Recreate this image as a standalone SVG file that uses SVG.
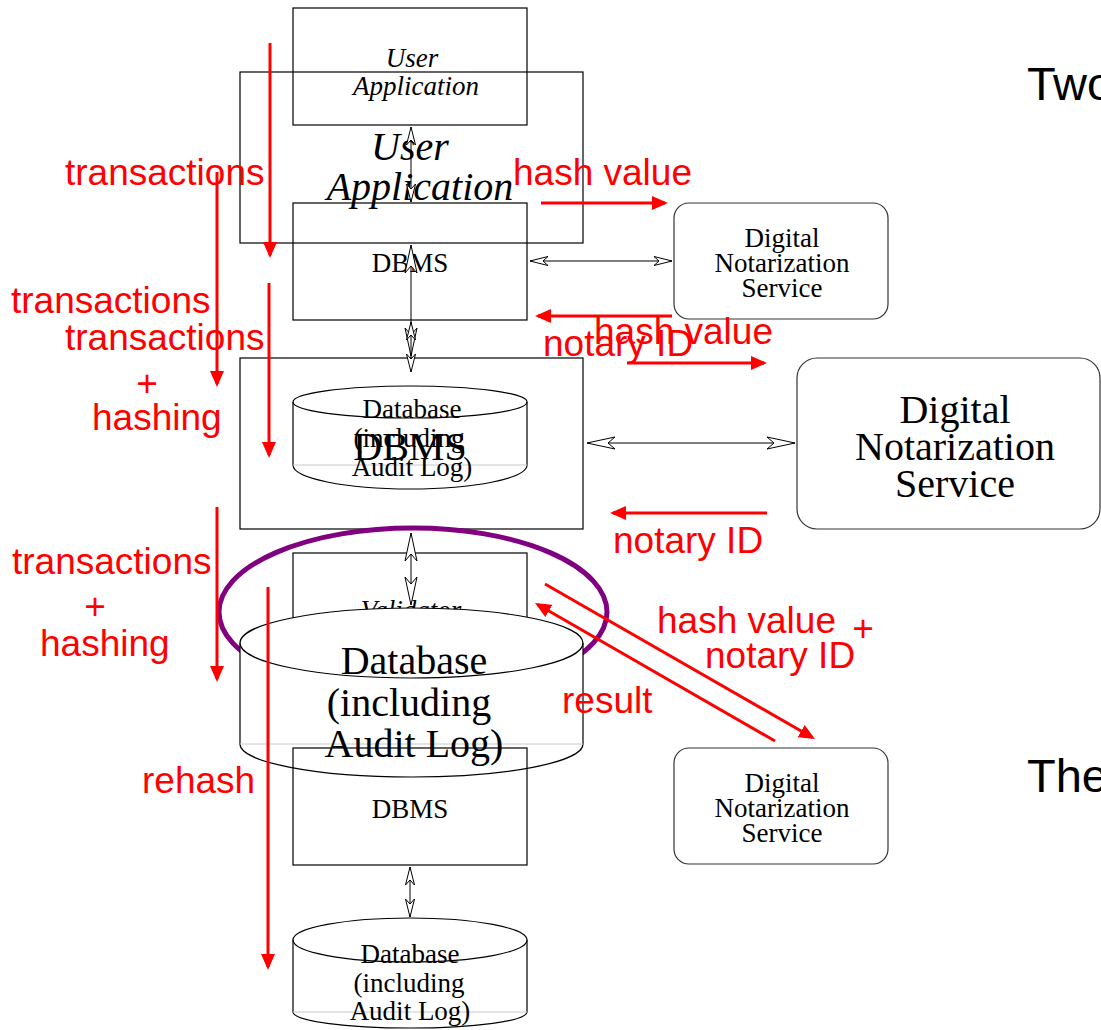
<svg xmlns="http://www.w3.org/2000/svg" width="1101" height="1030" viewBox="0 0 1101 1030">
  <defs>
    <style>
      .box { fill: none; stroke: #000; stroke-width: 1.2; }
      .rbox { fill: none; stroke: #333; stroke-width: 1.2; }
      .cyl { fill: #fff; stroke: #000; stroke-width: 1.2; }
      .cyl-rim { fill: none; stroke: #000; stroke-width: 1.2; }
      .cyl-seam { stroke: #c8c8c8; stroke-width: 1; }
      .serif { font-family: "Liberation Serif", "Times New Roman", serif; fill: #000; text-anchor: middle; }
      .s { font-size: 27px; }
      .l { font-size: 40px; }
      .it { font-style: italic; }
      .link { fill: none; stroke: #000; stroke-width: 1; }
      .flow { fill: none; stroke: #f00; stroke-width: 3; }
      .flabel { font-family: "Liberation Sans", Arial, sans-serif; font-size: 37px; fill: #f00; }
      .side { font-family: "Liberation Sans", Arial, sans-serif; font-size: 47px; fill: #000; }
    </style>
    <marker id="open-s" viewBox="0 0 18 9" refX="18" refY="4.5" markerWidth="18" markerHeight="9" markerUnits="userSpaceOnUse" orient="auto-start-reverse" overflow="visible">
      <path d="M18,4.5 L0,0 L5,4.5 L0,9 Z" fill="#fff" stroke="#000" stroke-width="1"/>
    </marker>
    <marker id="open-l" viewBox="0 0 28 12" refX="28" refY="6" markerWidth="28" markerHeight="12" markerUnits="userSpaceOnUse" orient="auto-start-reverse" overflow="visible">
      <path d="M28,6 L0,0 L7,6 L0,12 Z" fill="#fff" stroke="#000" stroke-width="1"/>
    </marker>
    <marker id="red-head" viewBox="0 0 16 14" refX="13" refY="7" markerWidth="16" markerHeight="14" markerUnits="userSpaceOnUse" orient="auto">
      <path d="M0,0 L16,7 L0,14 Z" fill="#f00"/>
    </marker>
  </defs>

  <rect width="1101" height="1030" fill="#fff"/>

  <!-- small stack: application / DBMS / database -->
  <g id="user-app-small">
    <rect class="box" x="293" y="8" width="234" height="117"/>
    <text class="serif s it" x="412" y="67">User</text>
    <text class="serif s it" x="416" y="95">Application</text>
  </g>

  <g id="user-app-large">
    <rect class="box" x="240" y="72" width="343" height="171"/>
    <text class="serif l it" x="410" y="160">User</text>
    <text class="serif l it" x="420" y="200">Application</text>
  </g>

  <g id="dbms-small">
    <rect class="box" x="293" y="203" width="234" height="117"/>
    <text class="serif s" x="410" y="272">DBMS</text>
  </g>

  <g id="notary-small">
    <rect class="rbox" x="674" y="203" width="214" height="116" rx="15"/>
    <text class="serif s" x="782" y="247">Digital</text>
    <text class="serif s" x="782" y="272">Notarization</text>
    <text class="serif s" x="782" y="297">Service</text>
  </g>

  <g id="dbms-large">
    <rect class="box" x="240" y="358" width="343" height="171"/>
  </g>

  <g id="database-small">
    <path class="cyl" d="M293,402 L293,465 A117,24 0 0 0 527,465 L527,402 A117,16 0 0 0 293,402 Z"/>
    <path class="cyl-rim" d="M293,402 A117,16 0 0 0 527,402"/>
    <line class="cyl-seam" x1="293" y1="465" x2="527" y2="465"/>
    <text class="serif s" x="412" y="418">Database</text>
    <text class="serif s" x="409" y="447">(including</text>
    <text class="serif s" x="412" y="476">Audit Log)</text>
  </g>

  <g id="dbms-large-label">
    <text class="serif l" x="410" y="460">DBMS</text>
  </g>

  <g id="notary-large">
    <rect class="rbox" x="797" y="358" width="303" height="171" rx="20"/>
    <text class="serif l" x="955" y="423">Digital</text>
    <text class="serif l" x="955" y="460">Notarization</text>
    <text class="serif l" x="955" y="497">Service</text>
  </g>

  <g id="validator">
    <rect class="box" x="293" y="553" width="234" height="117"/>
    <text class="serif s it" x="411" y="619">Validator</text>
  </g>

  <!-- highlight around the validator -->
  <g id="highlight">
    <ellipse cx="413" cy="612" rx="194" ry="84" fill="none" stroke="#800080" stroke-width="5"/>
  </g>

  <g id="database-large">
    <path class="cyl" d="M240,643 L240,744 A171.5,33 0 0 0 583,744 L583,643 A171.5,35 0 0 0 240,643 Z"/>
    <path class="cyl-rim" d="M240,643 A171.5,35 0 0 0 583,643"/>
    <line class="cyl-seam" x1="240" y1="744" x2="583" y2="744"/>
    <text class="serif l" x="414" y="674">Database</text>
    <text class="serif l" x="409" y="716">(including</text>
    <text class="serif l" x="414" y="757">Audit Log)</text>
  </g>

  <g id="dbms-lower">
    <rect class="box" x="293" y="748" width="234" height="117"/>
    <text class="serif s" x="410" y="818">DBMS</text>
  </g>

  <g id="notary-lower">
    <rect class="rbox" x="674" y="748" width="214" height="116" rx="15"/>
    <text class="serif s" x="782" y="792">Digital</text>
    <text class="serif s" x="782" y="817">Notarization</text>
    <text class="serif s" x="782" y="842">Service</text>
  </g>

  <g id="database-lower">
    <path class="cyl" d="M293,940 L293,1012 A117,16 0 0 0 527,1012 L527,940 A117,22 0 0 0 293,940 Z"/>
    <path class="cyl-rim" d="M293,940 A117,22 0 0 0 527,940"/>
    <line class="cyl-seam" x1="293" y1="1012" x2="527" y2="1012"/>
    <text class="serif s" x="410" y="963">Database</text>
    <text class="serif s" x="409" y="992">(including</text>
    <text class="serif s" x="410" y="1020">Audit Log)</text>
  </g>

  <!-- two-way links between components -->
  <g id="connectors">
    <line class="link" x1="411" y1="127" x2="411" y2="202" marker-start="url(#open-s)" marker-end="url(#open-s)"/>
    <line class="link" x1="411" y1="245" x2="411" y2="356" marker-start="url(#open-l)" marker-end="url(#open-l)"/>
    <line class="link" x1="411" y1="322" x2="411" y2="372" marker-start="url(#open-s)" marker-end="url(#open-s)"/>
    <line class="link" x1="411" y1="533" x2="411" y2="605" marker-start="url(#open-l)" marker-end="url(#open-l)"/>
    <line class="link" x1="410" y1="867" x2="410" y2="917" marker-start="url(#open-s)" marker-end="url(#open-s)"/>
    <line class="link" x1="530" y1="261" x2="672" y2="261" marker-start="url(#open-s)" marker-end="url(#open-s)"/>
    <line class="link" x1="587" y1="443" x2="795" y2="443" marker-start="url(#open-l)" marker-end="url(#open-l)"/>
  </g>

  <!-- data flows -->
  <g id="flows">
    <line class="flow" x1="270" y1="43" x2="270" y2="255" marker-end="url(#red-head)"/>
    <line class="flow" x1="217" y1="172" x2="217" y2="384" marker-end="url(#red-head)"/>
    <line class="flow" x1="269" y1="283" x2="269" y2="455" marker-end="url(#red-head)"/>
    <line class="flow" x1="217" y1="507" x2="217" y2="679" marker-end="url(#red-head)"/>
    <line class="flow" x1="268" y1="587" x2="268" y2="967" marker-end="url(#red-head)"/>
    <line class="flow" x1="541" y1="203" x2="665" y2="203" marker-end="url(#red-head)"/>
    <line class="flow" x1="672" y1="316" x2="538" y2="316" marker-end="url(#red-head)"/>
    <line class="flow" x1="627" y1="363" x2="764" y2="363" marker-end="url(#red-head)"/>
    <line class="flow" x1="767" y1="513" x2="613" y2="513" marker-end="url(#red-head)"/>
    <line class="flow" x1="545" y1="584" x2="812.4" y2="737.5" marker-end="url(#red-head)"/>
    <line class="flow" x1="775" y1="741" x2="537.6" y2="604.5" marker-end="url(#red-head)"/>
  </g>

  <g id="flow-labels">
    <text class="flabel" x="65" y="185">transactions</text>
    <text class="flabel" x="11" y="313">transactions</text>
    <text class="flabel" x="65" y="350">transactions</text>
    <text class="flabel" x="147" y="396" text-anchor="middle">+</text>
    <text class="flabel" x="92" y="430">hashing</text>
    <text class="flabel" x="12" y="574">transactions</text>
    <text class="flabel" x="95" y="619" text-anchor="middle">+</text>
    <text class="flabel" x="40" y="656">hashing</text>
    <text class="flabel" x="142" y="793">rehash</text>
    <text class="flabel" x="513" y="185">hash value</text>
    <text class="flabel" x="594" y="344">hash value</text>
    <text class="flabel" x="543" y="356">notary ID</text>
    <text class="flabel" x="613" y="553">notary ID</text>
    <text class="flabel" x="657" y="633">hash value</text>
    <text class="flabel" x="863" y="641" text-anchor="middle">+</text>
    <text class="flabel" x="705" y="668">notary ID</text>
    <text class="flabel" x="562" y="713">result</text>
  </g>

  <g id="captions">
    <text class="side" x="1027" y="100">Two</text>
    <text class="side" x="1027" y="792">The</text>
  </g>
</svg>
